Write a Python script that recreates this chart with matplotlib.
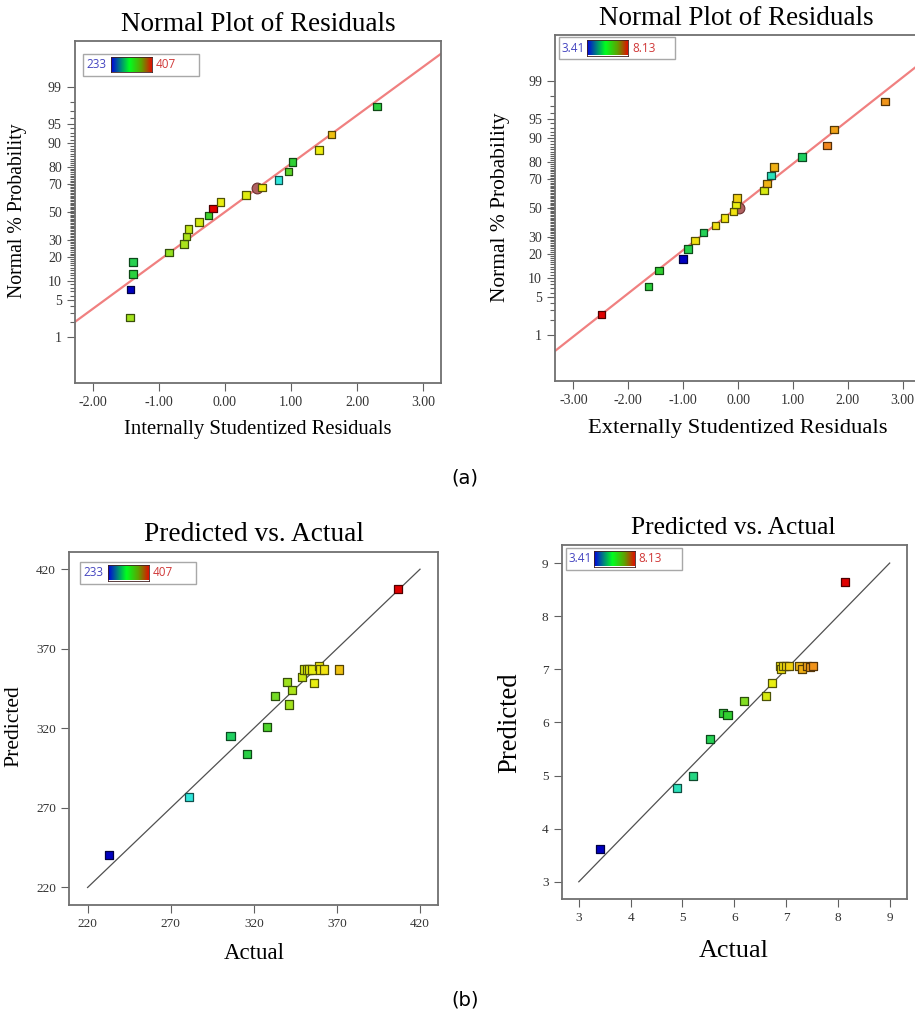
import math
import numpy as np
import matplotlib
matplotlib.use("Agg")
import matplotlib.pyplot as plt
from matplotlib.colors import LinearSegmentedColormap, Normalize
from matplotlib.patches import Rectangle
from matplotlib.ticker import FixedLocator, FormatStrFormatter

plt.rcParams["axes.unicode_minus"] = False

# ---------------- data ----------------
# Normal plot (a, left): internally studentized residuals, 233-407 response
res_int = [-1.44, -1.43, -1.39, -1.39, -0.85, -0.62, -0.58, -0.55, -0.39, -0.25,
           -0.18, -0.07, 0.32, 0.56, 0.81, 0.96, 1.02, 1.42, 1.61, 2.30]
prob_pct = [2.5, 7.5, 12.5, 17.5, 22.5, 27.5, 32.5, 37.5, 42.5, 47.5,
            52.5, 57.5, 62.5, 67.5, 72.5, 77.5, 82.5, 87.5, 92.5, 97.5]
resp_int = [341, 233, 318, 312, 338, 342, 343, 347, 350, 326,
            407, 356, 353, 360, 281, 330, 322, 357, 372, 318]
fit_int_slope, fit_int_icpt = 0.90, 0.0
circle_int = (0.49, 67.5)

# Normal plot (a, right): externally studentized residuals, 3.41-8.13 response
res_ext = [-2.49, -1.63, -1.44, -1.00, -0.91, -0.78, -0.63, -0.41, -0.25, -0.08,
           -0.04, -0.02, 0.47, 0.53, 0.60, 0.66, 1.17, 1.62, 1.75, 2.68]
resp_ext = [8.13, 5.75, 5.85, 3.41, 5.60, 6.92, 5.50, 6.95, 6.88, 6.90,
            6.74, 7.05, 6.61, 7.28, 4.89, 7.30, 5.40, 7.60, 7.40, 7.50]
fit_ext_slope, fit_ext_icpt = 0.794, 0.02
circle_ext = (0.02, 50.0)

# Predicted vs actual (b, left)
act_1 = [233, 281, 306, 316, 328, 333, 340, 341, 343, 349,
         350, 352, 353, 355, 356, 359, 360, 362, 371, 407]
pred_1 = [240.5, 277, 315, 304, 321, 340.5, 349, 335, 344, 352,
          357, 357, 357, 357, 348.5, 359, 357, 357, 357, 407.5]
range_1 = (233, 407)
ticks_1 = [220, 270, 320, 370, 420]

# Predicted vs actual (b, right)
act_2 = [3.41, 4.89, 5.21, 5.53, 5.79, 5.87, 6.18, 6.61, 6.73, 6.88,
         6.91, 6.95, 7.00, 7.05, 7.25, 7.31, 7.41, 7.46, 7.52, 8.13]
pred_2 = [3.61, 4.77, 4.99, 5.69, 6.17, 6.14, 6.40, 6.50, 6.74, 7.06,
          7.01, 7.07, 7.06, 7.07, 7.07, 7.01, 7.06, 7.05, 7.07, 8.64]
range_2 = (3.41, 8.13)
ticks_2 = [3, 4, 5, 6, 7, 8, 9]

prob_major = [1, 5, 10, 20, 30, 50, 70, 80, 90, 95, 99]
prob_minor = list(range(1, 100))

# ---------------- helpers ----------------
_A = [-3.969683028665376e+01, 2.209460984245205e+02, -2.759285104469687e+02,
      1.383577518672690e+02, -3.066479806614716e+01, 2.506628277459239e+00]
_B = [-5.447609879822406e+01, 1.615858368580409e+02, -1.556989798598866e+02,
      6.680131188771972e+01, -1.328068155288572e+01]
_C = [-7.784894002430293e-03, -3.223964580411365e-01, -2.400758277161838e+00,
      -2.549732539343734e+00, 4.374664141464968e+00, 2.938163982698783e+00]
_D = [7.784695709041462e-03, 3.224671290700398e-01, 2.445134137142996e+00,
      3.754408661907416e+00]


def pct_to_z(pct):
    arr = np.asarray(pct, dtype=float)
    shape = arr.shape
    p = np.clip(arr.ravel() / 100.0, 1e-12, 1 - 1e-12)
    z = np.empty_like(p)
    plow = 0.02425
    lo = p < plow
    hi = p > 1 - plow
    mid = ~(lo | hi)
    q = np.sqrt(-2 * np.log(p[lo]))
    z[lo] = (((((_C[0]*q+_C[1])*q+_C[2])*q+_C[3])*q+_C[4])*q+_C[5]) / \
            ((((_D[0]*q+_D[1])*q+_D[2])*q+_D[3])*q+1)
    q = p[mid] - 0.5
    r = q * q
    z[mid] = (((((_A[0]*r+_A[1])*r+_A[2])*r+_A[3])*r+_A[4])*r+_A[5])*q / \
             (((((_B[0]*r+_B[1])*r+_B[2])*r+_B[3])*r+_B[4])*r+1)
    q = np.sqrt(-2 * np.log(1 - p[hi]))
    z[hi] = -(((((_C[0]*q+_C[1])*q+_C[2])*q+_C[3])*q+_C[4])*q+_C[5]) / \
             ((((_D[0]*q+_D[1])*q+_D[2])*q+_D[3])*q+1)
    return z.reshape(shape)


_erf = np.vectorize(math.erf)


def z_to_pct(z):
    z = np.asarray(z, dtype=float)
    return 100.0 * 0.5 * (1.0 + _erf(z / math.sqrt(2.0)))


point_cmap = LinearSegmentedColormap.from_list("de", [
    (0.00, "#0000c0"), (0.27, "#30e8e0"), (0.42, "#20d060"), (0.52, "#30d030"),
    (0.60, "#90e020"), (0.68, "#d8ea10"), (0.72, "#f2f010"), (0.80, "#f0c010"),
    (0.90, "#f08020"), (1.00, "#e00000")])
bar_cmap = LinearSegmentedColormap.from_list("bar", [
    (0.0, "#0000e0"), (0.45, "#00ff20"), (0.75, "#60a000"), (1.0, "#e01000")])

W, H = 915, 1014
fig = plt.figure(figsize=(W / 100, H / 100), dpi=100)
SERIF = "Liberation Serif"
SPINE = "#707070"


def px_axes(x0, y0, x1, y1):
    return fig.add_axes([x0 / W, 1 - y1 / H, (x1 - x0) / W, (y1 - y0) / H])


def style_axes(ax, tick_size):
    for s in ax.spines.values():
        s.set_color(SPINE)
        s.set_linewidth(1.3)
    ax.tick_params(which="both", direction="out", color="#606060", width=0.8,
                   labelcolor="#333333", labelsize=tick_size)
    ax.tick_params(which="major", length=6)
    ax.tick_params(which="minor", length=3.5)
    for lab in ax.get_xticklabels() + ax.get_yticklabels():
        lab.set_family(SERIF)


def colours(vals, rng):
    norm = Normalize(rng[0], rng[1])
    face = point_cmap(norm(np.asarray(vals, float)))
    edge = face.copy()
    edge[:, :3] = edge[:, :3] * 0.35
    return face, edge


def scale_legend(x0, y0, lo, hi):
    bw, bh = 116, 22
    fig.patches.append(Rectangle((x0 / W, 1 - (y0 + bh) / H), bw / W, bh / H,
                                 transform=fig.transFigure, fc="white",
                                 ec="#a8a8a8", lw=1.0, zorder=5))
    bax = fig.add_axes([(x0 + 28) / W, 1 - (y0 + 18.5) / H, 41 / W, 15.5 / H])
    bax.set_zorder(6)
    bax.imshow(np.linspace(0, 1, 200)[None, :], aspect="auto", cmap=bar_cmap)
    bax.set_xticks([])
    bax.set_yticks([])
    for s in bax.spines.values():
        s.set_color("#402020")
        s.set_linewidth(0.6)
    fig.text((x0 + 3) / W, 1 - (y0 + bh / 2) / H, lo, color="#4545c0",
             ha="left", va="center", fontsize=8.5, family="Open Sans", zorder=7)
    fig.text((x0 + 73) / W, 1 - (y0 + bh / 2) / H, hi, color="#d03838",
             ha="left", va="center", fontsize=8.5, family="Open Sans", zorder=7)


def normal_panel(ax, res, vals, rng, slope, icpt, circ, xlim, xticks, xlabel,
                 lab_x_size, lab_y_size):
    ax.set_yscale("function", functions=(pct_to_z, z_to_pct))
    ax.set_xlim(*xlim)
    ax.set_ylim(float(z_to_pct(-3.18)), float(z_to_pct(3.18)))
    xs = np.array(xlim, dtype=float)
    ax.plot(xs, z_to_pct(slope * xs + icpt), color="#f08080", lw=1.6, zorder=2)
    ax.scatter([circ[0]], [circ[1]], s=60, marker="o", color="#b06060",
               edgecolors="#6a3030", linewidths=0.8, zorder=3)
    face, edge = colours(vals, rng)
    ax.scatter(res, prob_pct, s=30, marker="s", c=face, edgecolors=edge,
               linewidths=0.9, zorder=4)
    ax.yaxis.set_major_locator(FixedLocator(prob_major))
    ax.yaxis.set_minor_locator(FixedLocator([v for v in prob_minor if v not in prob_major]))
    ax.set_yticklabels([str(v) for v in prob_major])
    ax.yaxis.set_minor_formatter(plt.NullFormatter())
    ax.set_xticks(xticks)
    ax.xaxis.set_major_formatter(FormatStrFormatter("%.2f"))
    style_axes(ax, 10)
    ax.set_title("Normal Plot of Residuals", family=SERIF, fontsize=19.5,
                 y=1.047, va="center", pad=0)
    ax.set_xlabel(xlabel, family=SERIF, fontsize=lab_x_size, va="center")
    ax.set_ylabel("Normal % Probability", family=SERIF, fontsize=lab_y_size,
                  va="center")


def pva_panel(ax, act, pred, rng, ticks, lim, ttl_size, xlab_size, ylab_size):
    ax.plot([ticks[0], ticks[-1]], [ticks[0], ticks[-1]], color="#505050",
            lw=0.9, zorder=2)
    face, edge = colours(act, rng)
    ax.scatter(act, pred, s=34, marker="s", c=face, edgecolors=edge,
               linewidths=0.9, zorder=4)
    ax.set_xlim(*lim)
    ax.set_ylim(*lim)
    ax.set_xticks(ticks)
    ax.set_yticks(ticks)
    style_axes(ax, 9.5)
    ax.set_title("Predicted vs. Actual", family=SERIF, fontsize=ttl_size,
                 y=1.049, va="center", pad=0)
    ax.set_xlabel("Actual", family=SERIF, fontsize=xlab_size, va="center")
    ax.set_ylabel("Predicted", family=SERIF, fontsize=ylab_size, va="center")


# ---------------- panels ----------------
ax1 = px_axes(75, 41, 441, 383)
normal_panel(ax1, res_int, resp_int, range_1, fit_int_slope, fit_int_icpt,
             circle_int, (-2.27, 3.27), [-2, -1, 0, 1, 2, 3],
             "Internally Studentized Residuals", 14.9, 14.2)
ax1.xaxis.set_label_coords(0.5, -0.137)
ax1.yaxis.set_label_coords(-0.156, 0.503)

ax2 = px_axes(555.3, 35, 920.8, 381)
normal_panel(ax2, res_ext, resp_ext, range_2, fit_ext_slope, fit_ext_icpt,
             circle_ext, (-3.33, 3.33), [-3, -2, -1, 0, 1, 2, 3],
             "Externally Studentized Residuals", 16.2, 15.4)
ax2.xaxis.set_label_coords(0.5, -0.136)
ax2.yaxis.set_label_coords(-0.151, 0.503)
ax2.title.set_x(0.496)

ax3 = px_axes(69.3, 551.7, 438.3, 905)
pva_panel(ax3, act_1, pred_1, range_1, ticks_1, (209, 431), 19.7, 16.5, 15.6)
ax3.xaxis.set_label_coords(0.5, -0.136)
ax3.yaxis.set_label_coords(-0.15, 0.505)

ax4 = px_axes(561.7, 545, 907.3, 899.3)
pva_panel(ax4, act_2, pred_2, range_2, ticks_2, (2.67, 9.34), 18.4, 18.8, 19.2)
ax4.xaxis.set_label_coords(0.498, -0.145)
ax4.yaxis.set_label_coords(-0.15, 0.499)
ax4.title.set_x(0.496)

scale_legend(83, 53.5, "233", "407")
scale_legend(559, 37, "3.41", "8.13")
scale_legend(80, 562, "233", "407")
scale_legend(565.7, 548, "3.41", "8.13")

fig.text(465 / W, 1 - 478 / H, "(a)", ha="center", va="center", fontsize=14,
         family="DejaVu Sans")
fig.text(465 / W, 1 - 1000 / H, "(b)", ha="center", va="center", fontsize=14,
         family="DejaVu Sans")

fig.savefig("out.png", dpi=100)
